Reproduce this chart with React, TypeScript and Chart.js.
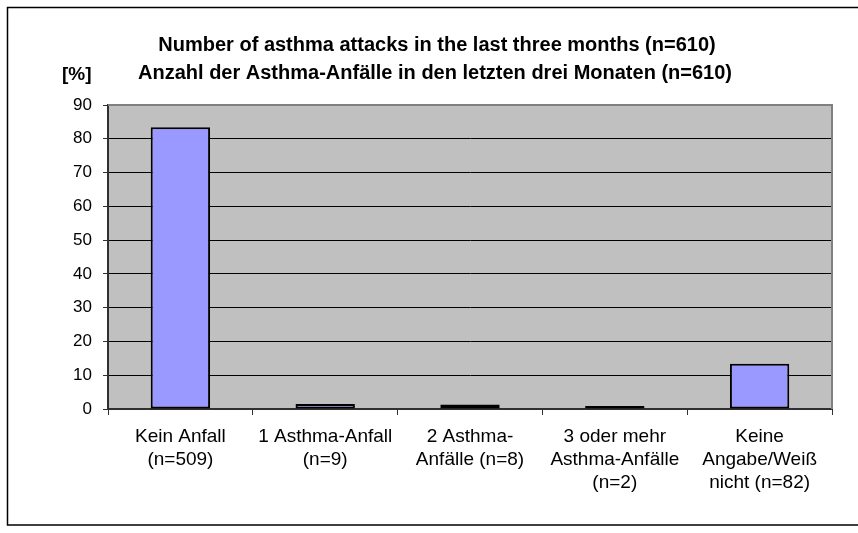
import React, { useEffect, useRef } from "react";
import { Chart, registerables } from "chart.js";

Chart.register(...registerables);

const categories: string[][] = [
  ["Kein Anfall", "(n=509)"],
  ["1 Asthma-Anfall", "(n=9)"],
  ["2 Asthma-", "Anfälle (n=8)"],
  ["3 oder mehr", "Asthma-Anfälle", "(n=2)"],
  ["Keine", "Angabe/Weiß", "nicht (n=82)"],
];
const percentValues: number[] = [83.4, 1.5, 1.3, 0.3, 13.4];
const titleLines: string[] = [
  "Number of asthma attacks in the last three months (n=610)",
  "Anzahl der Asthma-Anfälle in den letzten drei Monaten (n=610)",
];
const yUnitLabel = "[%]";
const yMin = 0;
const yMax = 90;
const yStep = 10;

const FONT = '"Liberation Sans", Arial, Helvetica, sans-serif';

const decorPlugin = {
  id: "decor",
  beforeDraw(chart: any) {
    const { ctx, chartArea, width, height } = chart;
    ctx.save();
    ctx.fillStyle = "#ffffff";
    ctx.fillRect(0, 0, width, height);
    // outer frame
    ctx.strokeStyle = "#000000";
    ctx.lineWidth = 1.5;
    ctx.beginPath();
    ctx.moveTo(width + 10, 7.5);
    ctx.lineTo(7.5, 7.5);
    ctx.lineTo(7.5, 525);
    ctx.lineTo(width + 10, 525);
    ctx.stroke();
    // plot background
    ctx.fillStyle = "#c0c0c0";
    ctx.fillRect(
      chartArea.left,
      chartArea.top,
      chartArea.right - chartArea.left,
      chartArea.bottom - chartArea.top
    );
    ctx.restore();
  },
  beforeDatasetsDraw(chart: any) {
    const { ctx, chartArea } = chart;
    ctx.save();
    ctx.strokeStyle = "#808080";
    ctx.lineWidth = 2;
    ctx.beginPath();
    ctx.moveTo(chartArea.left, chartArea.top);
    ctx.lineTo(chartArea.right, chartArea.top);
    ctx.lineTo(chartArea.right, chartArea.bottom);
    ctx.stroke();
    ctx.restore();
  },
  afterDraw(chart: any) {
    const { ctx } = chart;
    ctx.save();
    ctx.fillStyle = "#000000";
    ctx.font = `bold 20px ${FONT}`;
    ctx.textAlign = "center";
    ctx.textBaseline = "middle";
    ctx.fillText(titleLines[0], 437, 45);
    ctx.fillText(titleLines[1], 435, 73);
    ctx.textAlign = "left";
    ctx.font = `bold 19px ${FONT}`;
    ctx.fillText(yUnitLabel, 62, 75);
    ctx.restore();
  },
};

export default function App() {
  const canvasRef = useRef<HTMLCanvasElement | null>(null);

  useEffect(() => {
    const canvas = canvasRef.current;
    if (!canvas) return;
    const chart = new Chart(canvas, {
      type: "bar",
      data: {
        labels: categories,
        datasets: [
          {
            data: percentValues,
            backgroundColor: "#9999ff",
            borderColor: "#000000",
            borderWidth: 2,
            borderSkipped: false,
            categoryPercentage: 1,
            barPercentage: 0.41,
            minBarLength: 3,
          },
        ],
      },
      options: {
        animation: false,
        responsive: false,
        devicePixelRatio: 1,
        layout: { padding: { top: 105, left: 0, right: 26, bottom: 0 } },
        plugins: {
          legend: { display: false },
          tooltip: { enabled: false },
          title: { display: false },
        },
        scales: {
          x: {
            afterFit: (s: any) => {
              s.height = 124;
            },
            grid: {
              display: true,
              drawOnChartArea: false,
              drawTicks: true,
              tickLength: 6,
              color: "#303030",
              lineWidth: 1,
              offset: true,
            },
            border: { display: true, color: "#303030", width: 2 },
            ticks: {
              color: "#000000",
              font: { family: FONT, size: 19, lineHeight: 1.21 },
              padding: 10,
              maxRotation: 0,
              minRotation: 0,
              autoSkip: false,
            },
          },
          y: {
            min: yMin,
            max: yMax,
            afterFit: (s: any) => {
              s.width = 108;
            },
            grid: {
              color: (c: any) =>
                c.tick && c.tick.value === yMax ? "#808080" : "#000000",
              lineWidth: 1,
              drawTicks: true,
              tickLength: 5,
              tickColor: "#303030",
            },
            border: { display: true, color: "#303030", width: 2 },
            ticks: {
              stepSize: yStep,
              color: "#000000",
              font: { family: FONT, size: 17 },
              padding: 11,
            },
          },
        },
      },
      plugins: [decorPlugin],
    });
    return () => chart.destroy();
  }, []);

  return (
    <div
      style={{
        position: "absolute",
        left: 0,
        top: 0,
        width: 858,
        height: 533,
        overflow: "hidden",
        background: "#ffffff",
      }}
    >
      <canvas
        ref={canvasRef}
        width={858}
        height={533}
        style={{ display: "block", width: 858, height: 533 }}
      />
    </div>
  );
}
